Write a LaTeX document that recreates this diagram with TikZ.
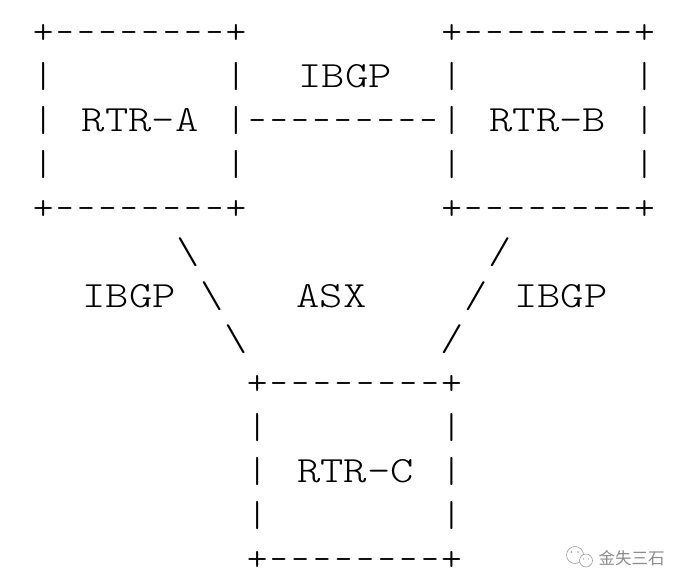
\documentclass[tikz,border=0pt]{standalone}
\usepackage{fontspec}
\newfontfamily\asciifont[FakeStretch=1.2]{Latin Modern Mono Light}
\newfontfamily\boxfontfam[FakeStretch=1.1]{Latin Modern Mono Light}
\newfontfamily\dashfontfam[FakeStretch=0.92]{Latin Modern Mono Light}
\newfontfamily\cjkfont{Noto Sans CJK SC}
\begin{document}
\begin{tikzpicture}[x=1pt,y=-1pt,
  wd/.style={font={\asciifont\fontsize{37}{44}\selectfont}, inner sep=0pt, anchor=base, text=black},
  bc/.style={font={\boxfontfam\fontsize{36}{44}\selectfont}, inner sep=0pt, anchor=base, text=black},
  dc/.style={font={\dashfontfam\fontsize{36}{44}\selectfont}, inner sep=0pt, anchor=base, text=black},
  wm/.style={font={\cjkfont\fontsize{16.5}{16.5}\selectfont}, inner sep=0pt, anchor=base, text=black!45},
  wmicon/.style={draw=black!40, line width=0.6pt}]
\useasboundingbox (0,0) rectangle (687,587);
\fill[white] (0,0) rectangle (687,587);
% ASCII boxes: name / left column centre / pitch / first row
\foreach \bn/\xo/\pitch/\row in {A/43.3/21.4/1, B/451.8/21.4/1, C/257.2/21.6/9} {
  \pgfmathsetmacro\ytop{43.6+(\row-1)*43.9}
  \pgfmathsetmacro\ybot{43.6+(\row+3)*43.9}
  \foreach \k in {0,9} {
    \node[bc] (\bn-tp\k) at ({\xo+\k*\pitch},\ytop) {+};
    \node[bc] (\bn-bp\k) at ({\xo+\k*\pitch},\ybot) {+};
    \foreach \j in {1,2,3} {
      \node[bc] (\bn-s\k-\j) at ({\xo+\k*\pitch},{43.6+(\row-1+\j)*43.9}) {|};
    }
  }
  \foreach \k in {1,...,8} {
    \node[dc] (\bn-td\k) at ({\xo+\k*\pitch},\ytop) {-};
    \node[dc] (\bn-bd\k) at ({\xo+\k*\pitch},\ybot) {-};
  }
}
% dashed link A -- B
\foreach \k in {10,...,18} {
  \node[dc] (ab-d\k) at ({43.3+\k*21.4},131.4) {-};
}
% labels
\node[wd] (ibgpAB) at (345,87.5) {IBGP};
\node[wd] (rtrA) at (140.2,131.4) {RTR-A};
\node[wd] (rtrB) at (547.8,131.4) {RTR-B};
\node[wd] (ibgpAC) at (129.2,307) {IBGP};
\node[wd] (asx) at (331.5,307) {ASX};
\node[wd] (ibgpBC) at (560.9,307) {IBGP};
\node[wd] (rtrC) at (355.5,482.6) {RTR-C};
% diagonal links
\node[wd] (bs1) at (187.8,263.1) {\textbackslash};
\node[wd] (bs2) at (212.2,307) {\textbackslash};
\node[wd] (bs3) at (236,350.9) {\textbackslash};
\node[wd] (fs1) at (500,263.1) {/};
\node[wd] (fs2) at (476.3,307) {/};
\node[wd] (fs3) at (452.2,350.9) {/};
% watermark
\draw[wmicon] (575,555) circle (8.5);
\fill[black!40] (571.5,552) circle (0.9) (578,552) circle (0.9);
\draw[wmicon, fill=white] (586,560.5) circle (6.5);
\fill[black!40] (583.5,559) circle (0.7) (588.5,559) circle (0.7);
\node[wm] (wmtext) at (631.5,564) {金失三石};
\end{tikzpicture}
\end{document}
